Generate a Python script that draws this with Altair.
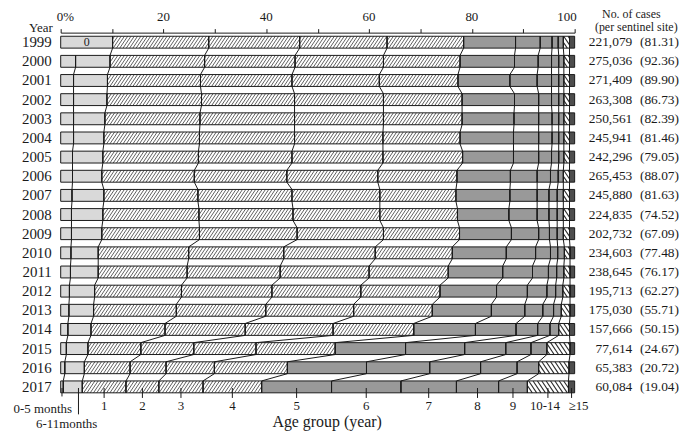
import altair as alt
import pandas as pd
import numpy as np

years = list(range(1999, 2018))
groups = ["0-5 months", "6-11 months", "1", "2", "3", "4", "5", "6", "7", "8", "9", "10-14", "≥15"]
bottom_labels = ["", "", "1", "2", "3", "4", "5", "6", "7", "8", "9", "10-14", "≥15"]
top_ticks = [0, 10, 20, 30, 40, 50, 60, 70, 80, 90, 100]
top_labels = ["0%", "", "20", "", "40", "", "60", "", "80", "", "100"]

# percentage of cases by age group, one list per group, years 1999..2017
m0_5 = [0.0, 2.9, 2.5, 2.5, 2.5, 2.5, 2.3, 2.3, 2.2, 2.1, 2.1, 2.0, 1.9, 1.7, 1.6, 1.4, 1.1, 0.8, 0.5]
m6_11 = [10.1, 6.7, 6.6, 6.5, 6.1, 5.9, 5.9, 5.7, 6.2, 6.1, 5.9, 5.3, 5.4, 4.9, 4.8, 4.5, 4.2, 3.8, 3.7]
age1 = [18.7, 18.4, 18.1, 18.4, 18.5, 18.6, 18.6, 18.0, 18.3, 18.7, 19.0, 17.6, 17.3, 16.9, 16.1, 14.4, 10.3, 8.9, 8.5]
age2 = [17.7, 17.6, 17.8, 18.1, 18.4, 18.5, 18.2, 18.0, 18.3, 18.3, 19.0, 18.5, 18.1, 17.6, 17.4, 15.6, 10.3, 7.0, 6.4]
age3 = [17.0, 17.2, 17.0, 17.3, 17.3, 17.2, 17.7, 17.7, 17.1, 16.9, 16.8, 17.8, 17.3, 17.3, 17.1, 17.1, 12.1, 9.4, 8.6]
age4 = [14.9, 14.9, 15.3, 15.3, 15.3, 15.0, 15.5, 15.4, 14.8, 15.1, 14.8, 15.0, 15.4, 15.4, 15.3, 15.7, 15.4, 14.2, 11.4]
age5 = [10.1, 10.6, 10.1, 10.2, 10.1, 10.4, 9.9, 10.4, 10.5, 10.0, 10.1, 10.5, 10.6, 11.0, 11.5, 12.0, 13.7, 15.4, 13.6]
age6 = [4.8, 4.6, 5.3, 4.7, 4.8, 4.9, 4.9, 5.2, 5.3, 5.5, 5.3, 5.7, 5.8, 6.0, 6.5, 7.9, 11.5, 12.3, 13.5]
age7 = [2.3, 2.6, 2.8, 2.5, 2.6, 2.6, 2.5, 2.6, 2.3, 2.3, 2.1, 2.9, 3.1, 3.8, 3.5, 4.2, 8.0, 9.9, 10.8]
age8 = [1.2, 1.4, 1.4, 1.4, 1.3, 1.3, 1.4, 1.5, 1.6, 1.6, 1.5, 1.4, 1.6, 1.7, 2.1, 2.4, 4.9, 7.1, 8.2]
age9 = [1.0, 1.0, 1.0, 1.0, 1.0, 1.0, 1.0, 1.0, 1.2, 1.2, 1.2, 1.3, 1.4, 1.4, 1.5, 1.7, 3.1, 4.2, 5.6]
age10_14 = [1.2, 1.1, 1.1, 1.1, 1.1, 1.1, 1.1, 1.2, 1.2, 1.2, 1.2, 1.1, 1.2, 1.4, 1.7, 2.1, 4.5, 5.9, 8.0]
age15 = [1.0, 1.0, 1.0, 1.0, 1.0, 1.0, 1.0, 1.0, 1.0, 1.0, 1.0, 0.9, 0.9, 0.9, 0.9, 1.0, 0.9, 1.1, 1.2]

cases = ["221,079", "275,036", "271,409", "263,308", "250,561", "245,941", "242,296", "265,453",
         "245,880", "224,835", "202,732", "234,603", "238,645", "195,713", "175,030", "157,666",
         "77,614", "65,383", "60,084"]
per_site = ["(81.31)", "(92.36)", "(89.90)", "(86.73)", "(82.39)", "(81.46)", "(79.05)", "(88.07)",
            "(81.63)", "(74.52)", "(67.09)", "(77.48)", "(76.17)", "(62.27)", "(55.71)", "(50.15)",
            "(24.67)", "(20.72)", "(19.04)"]
header_lines = ["No. of cases", "(per sentinel site)"]

series = [m0_5, m6_11, age1, age2, age3, age4, age5, age6, age7, age8, age9, age10_14, age15]
colors = ["#d9d9d9", "#d9d9d9", "white", "white", "white", "white",
          "#999999", "#999999", "#999999", "#999999", "#999999", "white", "#4d4d4d"]
hatch_kind = [None, None, "/", "/", "/", "/", None, None, None, None, None, "\\", None]

W, H = 517, 366
PX_X = W / 100.0
HH = 0.31
FONT = "Liberation Serif"
INK = "#1a1a1a"

vals = np.array(series)  # groups x years
cum = np.cumsum(vals, axis=0)

bar_rows = []
for gi, g in enumerate(groups):
    for yi, yr in enumerate(years):
        v = vals[gi, yi]
        if v <= 0:
            continue
        hi = cum[gi, yi]
        lo = hi - v
        bar_rows.append({"year": yr, "group": g, "lo": lo, "hi": hi,
                         "y1": yr - HH, "y2": yr + HH, "mid": (lo + hi) / 2})
bars = pd.DataFrame(bar_rows)


def hatch(lo, hi, yc, spacing_px, run_px, kind):
    sp = spacing_px / PX_X
    run = run_px / PX_X
    out = []
    k = int(np.floor((lo - run) / sp))
    while k * sp < hi:
        x0 = k * sp
        t0 = max(0.0, (lo - x0) / run)
        t1 = min(1.0, (hi - x0) / run)
        if t1 > t0 + 1e-6:
            xa, xb = x0 + t0 * run, x0 + t1 * run
            if kind == "/":
                ya, yb = yc + HH - 2 * HH * t0, yc + HH - 2 * HH * t1
            else:
                ya, yb = yc - HH + 2 * HH * t0, yc - HH + 2 * HH * t1
            out.append({"hx": xa, "hx2": xb, "hy": ya, "hy2": yb, "kind": kind})
        k += 1
    return out


hrows = []
for gi in range(len(groups)):
    kind = hatch_kind[gi]
    if kind is None:
        continue
    for yi, yr in enumerate(years):
        v = vals[gi, yi]
        if v <= 0:
            continue
        hi = cum[gi, yi]
        lo = hi - v
        if kind == "/":
            hrows += hatch(lo, hi, yr, 3.3, 8.0, kind)
        else:
            hrows += hatch(lo, hi, yr, 4.4, 8.0, kind)
hatches = pd.DataFrame(hrows)

# connecting lines between boundaries of consecutive years
crow = []
for k in range(len(groups) - 1):
    o = 0
    for yi, yr in enumerate(years):
        if k == 0 and vals[0, yi] <= 0:
            continue
        b = cum[k, yi]
        crow.append({"k": k, "b": b, "yy": yr - HH, "ord": o}); o += 1
        crow.append({"k": k, "b": b, "yy": yr + HH, "ord": o}); o += 1
conn = pd.DataFrame(crow)

last = len(years) - 1
bot = pd.DataFrame({
    "label": bottom_labels,
    "mid": [(cum[i, last] - vals[i, last] / 2) for i in range(len(groups))],
})
bot_ticks = bot[bot["label"] != ""]
bot_main = bot_ticks[~bot_ticks["label"].isin(["10-14", "≥15"])]
bot_1014 = bot_ticks[bot_ticks["label"] == "10-14"]
bot_15 = bot_ticks[bot_ticks["label"] == "≥15"]
lead05 = pd.DataFrame({"x": [vals[0, last] / 2]})
lead611 = pd.DataFrame({"x": [cum[0, last] + 0.8 * vals[1, last]]})

side = pd.DataFrame({"year": years, "ylab": [str(y) for y in years], "cases": cases, "site": per_site})
zero_lbl = pd.DataFrame({"year": [1999], "x": [cum[1, 0] / 2], "t": ["0"]})
topdf = pd.DataFrame({"v": top_ticks, "t": top_labels})

xs = alt.Scale(domain=[0, 100], nice=False, zero=False)
ys = alt.Scale(domain=[1998.5, 2017.5], reverse=True, nice=False, zero=False)

x_axis = alt.Axis(orient="top", values=top_ticks, labels=False,
                  tickSize=4, domainColor=INK, tickColor=INK, grid=False, title=None)

fill_layer = alt.Chart(bars).mark_bar(strokeWidth=0).encode(
    x=alt.X("lo:Q", scale=xs, axis=x_axis),
    x2="hi:Q",
    y=alt.Y("y1:Q", scale=ys, axis=None),
    y2="y2:Q",
    fill=alt.Fill("group:N", scale=alt.Scale(domain=groups, range=colors), legend=None),
)

hatch_layer = alt.Chart(hatches).mark_rule(color="#2a2a2a").encode(
    x=alt.X("hx:Q", scale=xs), x2="hx2:Q",
    y=alt.Y("hy:Q", scale=ys, axis=None), y2="hy2:Q",
    strokeWidth=alt.StrokeWidth("kind:N", scale=alt.Scale(domain=["/", "\\"], range=[0.75, 1.1]),
                                legend=None),
)

outline_layer = alt.Chart(bars).mark_bar(fill="white", fillOpacity=0, stroke=INK, strokeWidth=1).encode(
    x=alt.X("lo:Q", scale=xs), x2="hi:Q",
    y=alt.Y("y1:Q", scale=ys, axis=None), y2="y2:Q",
)

conn_layer = alt.Chart(conn).mark_line(color=INK, strokeWidth=1).encode(
    x=alt.X("b:Q", scale=xs),
    y=alt.Y("yy:Q", scale=ys, axis=None),
    detail="k:N",
    order="ord:Q",
)

zero_layer = alt.Chart(zero_lbl).mark_text(fontSize=12, color=INK).encode(
    x=alt.X("x:Q", scale=xs), y=alt.Y("year:Q", scale=ys, axis=None), text="t:N")

top_main = alt.Chart(topdf[(topdf["t"] != "") & (topdf["v"] > 0) & (topdf["v"] < 100)]).mark_text(
    fontSize=13, color=INK, baseline="middle").encode(
    x=alt.X("v:Q", scale=xs), y=alt.value(-15.5), text="t:N")
top_zero = alt.Chart(topdf[topdf["v"] == 0]).mark_text(
    fontSize=13, color=INK, baseline="middle", align="left", dx=-4).encode(
    x=alt.X("v:Q", scale=xs), y=alt.value(-15.5), text="t:N")
top_hund = alt.Chart(topdf[topdf["v"] == 100]).mark_text(
    fontSize=13, color=INK, baseline="middle", align="right", dx=2).encode(
    x=alt.X("v:Q", scale=xs), y=alt.value(-15.5), text="t:N")

tick_layer = alt.Chart(bot_ticks).mark_rule(color=INK, strokeWidth=1).encode(
    x=alt.X("mid:Q", scale=xs), y=alt.value(357.5), y2=alt.value(367.5))

bot_text = alt.Chart(bot_main).mark_text(fontSize=13, color=INK, baseline="middle").encode(
    x=alt.X("mid:Q", scale=xs), y=alt.value(376), text="label:N")
bot_text2 = alt.Chart(bot_1014).mark_text(fontSize=13, color=INK, baseline="middle", dx=-3).encode(
    x=alt.X("mid:Q", scale=xs), y=alt.value(376), text="label:N")
bot_text3 = alt.Chart(bot_15).mark_text(fontSize=13, color=INK, baseline="middle", align="left", dx=-3).encode(
    x=alt.X("mid:Q", scale=xs), y=alt.value(376), text="label:N")

lead1 = alt.Chart(lead05).mark_rule(color=INK, strokeWidth=1).encode(
    x=alt.X("x:Q", scale=xs), y=alt.value(357.5), y2=alt.value(366))
lead2 = alt.Chart(lead611).mark_rule(color=INK, strokeWidth=1).encode(
    x=alt.X("x:Q", scale=xs), y=alt.value(357.5), y2=alt.value(384))

misc = pd.DataFrame({"t": ["0-5 months", "6-11months", "Age group (year)", "Year",
                            header_lines[0], header_lines[1]],
                     "px": [-18, 6, 268, -8, 574, 579],
                     "py": [378.5, 393.5, 392, -5, -19, -6],
                     "fs": [13, 13, 16, 13, 12, 12],
                     "al": ["center", "center", "center", "right", "center", "center"]})
misc_layers = []
for _, r in misc.iterrows():
    misc_layers.append(
        alt.Chart(pd.DataFrame({"t": [r["t"]]})).mark_text(
            fontSize=float(r["fs"]), color=INK, align=r["al"], baseline="middle"
        ).encode(x=alt.value(float(r["px"])), y=alt.value(float(r["py"])), text="t:N")
    )

year_layer = alt.Chart(side).mark_text(fontSize=15, color=INK, align="right", baseline="middle").encode(
    x=alt.value(-9), y=alt.Y("year:Q", scale=ys, axis=None), text="ylab:N")
cases_layer = alt.Chart(side).mark_text(fontSize=13.5, color=INK, align="right", baseline="middle").encode(
    x=alt.value(575), y=alt.Y("year:Q", scale=ys, axis=None), text="cases:N")
site_layer = alt.Chart(side).mark_text(fontSize=13.5, color=INK, align="right", baseline="middle").encode(
    x=alt.value(622), y=alt.Y("year:Q", scale=ys, axis=None), text="site:N")

chart = alt.layer(
    fill_layer, hatch_layer, outline_layer, conn_layer, zero_layer,
    top_main, top_zero, top_hund,
    tick_layer, bot_text, bot_text2, bot_text3, lead1, lead2,
    year_layer, cases_layer, site_layer, *misc_layers
).properties(
    width=W, height=H,
    padding={"left": 53, "top": 23.5, "right": 110, "bottom": 36},
    autosize=alt.AutoSizeParams(type="none"),
).configure(font=FONT).configure_view(stroke=None)

chart.save("out.html", embed_options={"renderer": "svg", "actions": False})
